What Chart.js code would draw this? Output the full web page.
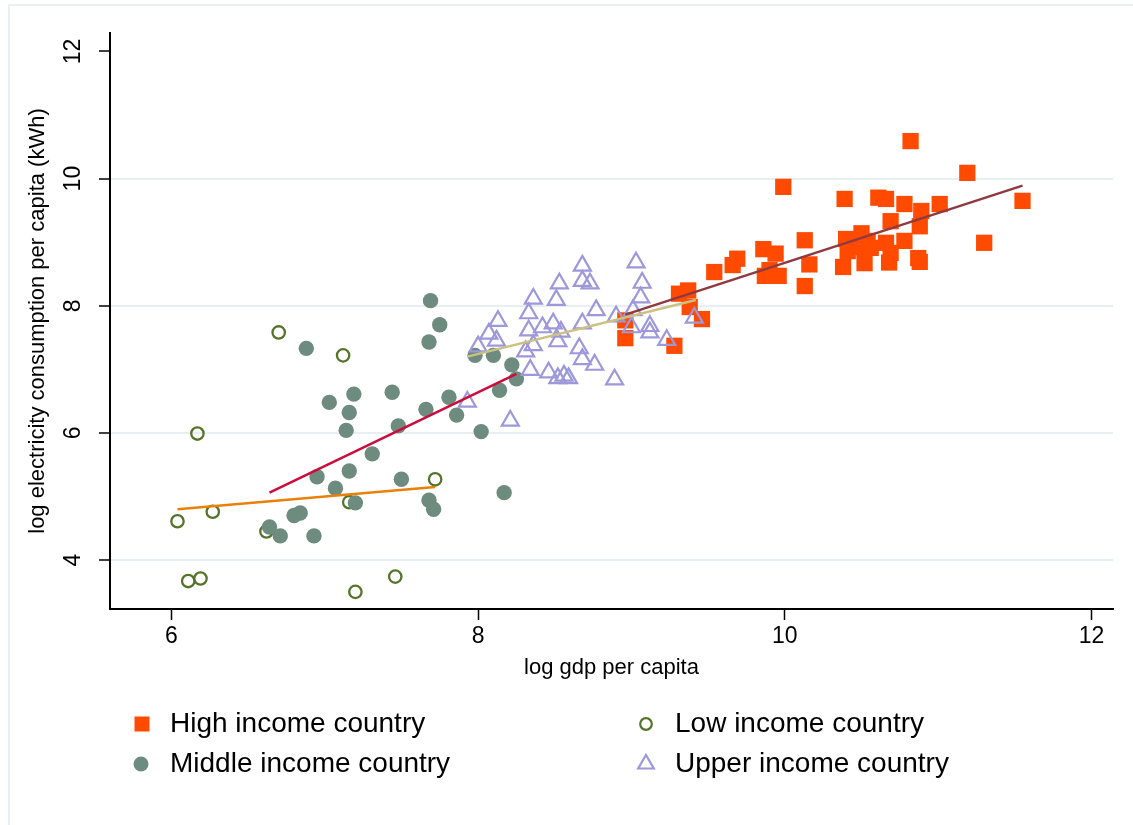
<!DOCTYPE html>
<html>
<head>
<meta charset="utf-8">
<title>Electricity consumption and GDP per capita</title>
<script src="https://cdn.jsdelivr.net/npm/chart.js@4.4.1/dist/chart.umd.min.js"></script>
<style>
  html, body { margin: 0; padding: 0; background: #ffffff; }
  #wrap { position: relative; width: 1133px; height: 825px; }
  canvas { display: block; }
</style>
</head>
<body>
<div id="wrap"><canvas id="chart" width="1133" height="825"></canvas></div>
<script>
// ---- data: log gdp per capita (x) and log electricity consumption per capita (y) ----
const highGdp  = [8.96, 8.96, 9.28, 9.46, 9.54, 9.66, 9.69, 9.31, 9.37, 9.38, 9.86, 9.94, 9.87, 9.96, 9.90,
                  9.99, 10.13, 10.16, 10.13, 10.39, 10.61, 10.66, 10.78, 10.89, 11.01, 10.69, 10.88, 10.40, 10.50, 10.54,
                  10.41, 10.50, 10.56, 10.66, 10.78, 10.69, 10.38, 10.52, 10.68, 10.87, 10.88, 10.82, 11.19, 11.55, 11.30];
const highElec = [7.77, 7.49, 7.37, 7.79, 8.53, 8.64, 8.74, 8.19, 8.24, 7.98, 8.89, 8.82, 8.47, 8.47, 8.56,
                  9.87, 9.03, 8.65, 8.31, 9.68, 9.70, 9.68, 9.60, 9.49, 9.60, 9.33, 9.25, 9.05, 9.14, 9.02,
                  8.86, 8.92, 8.91, 8.99, 9.02, 8.83, 8.61, 8.67, 8.68, 8.75, 8.69, 10.59, 10.09, 9.65, 8.99];

const midGdp  = [7.69, 7.75, 6.88, 7.68, 7.98, 8.10, 8.22, 8.25, 8.14, 7.03, 7.19, 7.16, 7.14, 7.44, 7.66,
                 7.81, 7.86, 7.48, 8.02, 7.31, 6.95, 7.16, 7.50, 7.07, 7.68, 7.71, 7.20, 6.84, 6.80, 6.64,
                 6.71, 6.93, 8.17];
const midElec = [8.08, 7.70, 7.33, 7.43, 7.22, 7.22, 7.07, 6.85, 6.67, 6.48, 6.61, 6.32, 6.04, 6.64, 6.37,
                 6.56, 6.28, 6.11, 6.02, 5.67, 5.31, 5.40, 5.27, 5.13, 4.94, 4.80, 4.90, 4.74, 4.70, 4.52,
                 4.38, 4.38, 5.06];

const lowGdp  = [6.70, 7.12, 6.17, 7.72, 6.27, 6.04, 6.62, 7.16, 6.11, 6.19, 7.46, 7.20];
const lowElec = [7.58, 7.22, 5.99, 5.27, 4.76, 4.61, 4.45, 4.91, 3.67, 3.71, 3.74, 3.50];

const upGdp  = [8.68, 9.03, 8.53, 8.68, 8.73, 9.07, 8.36, 8.51, 9.06, 8.33, 8.13, 8.77, 9.01, 8.90, 8.49,
                8.68, 8.42, 8.07, 8.33, 8.54, 9.12, 9.00, 9.12, 8.12, 8.00, 8.36, 8.52, 9.23, 9.41, 8.66,
                8.31, 8.68, 8.76, 8.34, 8.46, 8.52, 8.56, 8.59, 8.89, 7.93, 8.21];
const upElec = [8.63, 8.68, 8.35, 8.39, 8.35, 8.36, 8.11, 8.09, 8.13, 7.88, 7.76, 7.93, 7.93, 7.83, 7.72,
                7.72, 7.66, 7.56, 7.61, 7.59, 7.68, 7.66, 7.58, 7.45, 7.36, 7.38, 7.44, 7.46, 7.81, 7.33,
                7.28, 7.16, 7.07, 6.99, 6.95, 6.86, 6.90, 6.86, 6.84, 6.49, 6.19];

// linear fit lines per group (endpoints)
const highFitGdp = [8.96, 11.55], highFitElec = [7.86, 9.89];
const lowFitGdp  = [6.04, 7.72],  lowFitElec  = [4.80, 5.15];
const midFitGdp  = [6.64, 8.25],  midFitElec  = [5.06, 6.93];
const upFitGdp   = [7.93, 9.42],  upFitElec   = [7.20, 8.09];

const groupLabels = ['High income country', 'Low income country', 'Middle income country', 'Upper income country'];
const xTicks = [6, 8, 10, 12];
const yTicks = [4, 6, 8, 10, 12];
const xTitle = 'log gdp per capita';
const yTitle = 'log electricity consumption per capita (kWh)';

// ---- styling ----
const FONT = '"Liberation Sans", Arial, Helvetica, sans-serif';
const C_HIGH = '#ff4a00', C_MID = '#6e8b7f', C_LOW = '#55742a', C_UP = '#9c98da';
const C_HIGH_FIT = '#8e3a40', C_LOW_FIT = '#e8800a', C_MID_FIT = '#cc0c3c', C_UP_FIT = '#cbc183';

const zip = (xs, ys) => xs.map((x, i) => ({ x: x, y: ys[i] }));

function fitLine(xs, ys, color) {
  return { data: zip(xs, ys), showLine: true, borderColor: color, borderWidth: 2.5,
           pointRadius: 0, fill: false };
}

// first dataset is drawn on top
const datasets = [
  fitLine(upFitGdp, upFitElec, C_UP_FIT),
  fitLine(midFitGdp, midFitElec, C_MID_FIT),
  fitLine(lowFitGdp, lowFitElec, C_LOW_FIT),
  fitLine(highFitGdp, highFitElec, C_HIGH_FIT),
  { label: groupLabels[3], data: zip(upGdp, upElec), pointStyle: 'triangle', pointRadius: 9.8,
    pointBorderWidth: 2.2, pointBorderColor: C_UP, pointBackgroundColor: 'rgba(0,0,0,0)' },
  { label: groupLabels[2], data: zip(midGdp, midElec), pointStyle: 'circle', pointRadius: 7.7,
    pointBorderWidth: 0, pointBackgroundColor: C_MID, pointBorderColor: C_MID },
  { label: groupLabels[1], data: zip(lowGdp, lowElec), pointStyle: 'circle', pointRadius: 6.2,
    pointBorderWidth: 2.3, pointBorderColor: C_LOW, pointBackgroundColor: 'rgba(0,0,0,0)' },
  { label: groupLabels[0], data: zip(highGdp, highElec), pointStyle: 'rect', pointRadius: 11.5,
    pointBorderWidth: 0, pointBackgroundColor: C_HIGH, pointBorderColor: C_HIGH }
];

// background, faint outer frame and the two-column key
const framePlugin = {
  id: 'frame',
  beforeDraw(chart) {
    const ctx = chart.ctx;
    ctx.save();
    ctx.fillStyle = '#ffffff';
    ctx.fillRect(0, 0, chart.width, chart.height);
    ctx.strokeStyle = '#e9eff2';
    ctx.lineWidth = 2;
    ctx.beginPath();
    ctx.moveTo(9, chart.height);
    ctx.lineTo(9, 5);
    ctx.lineTo(chart.width, 5);
    ctx.stroke();
    ctx.restore();
  },
  afterDraw(chart) {
    const ctx = chart.ctx;
    const items = [
      { text: groupLabels[0], mx: 142, tx: 170, y: 724, kind: 'square' },
      { text: groupLabels[1], mx: 646, tx: 675, y: 724, kind: 'ring' },
      { text: groupLabels[2], mx: 141, tx: 170, y: 764, kind: 'dot' },
      { text: groupLabels[3], mx: 646, tx: 675, y: 764, kind: 'tri' }
    ];
    ctx.save();
    items.forEach(it => {
      ctx.beginPath();
      if (it.kind === 'square') {
        ctx.fillStyle = C_HIGH;
        ctx.fillRect(it.mx - 7.5, it.y - 7.5, 15, 15);
      } else if (it.kind === 'dot') {
        ctx.fillStyle = C_MID;
        ctx.arc(it.mx, it.y, 7.5, 0, Math.PI * 2);
        ctx.fill();
      } else if (it.kind === 'ring') {
        ctx.strokeStyle = C_LOW;
        ctx.lineWidth = 2.2;
        ctx.arc(it.mx, it.y, 5.8, 0, Math.PI * 2);
        ctx.stroke();
      } else {
        ctx.strokeStyle = C_UP;
        ctx.lineWidth = 2.2;
        const r = 9;
        ctx.moveTo(it.mx, it.y - r);
        ctx.lineTo(it.mx + r * 0.866, it.y + r / 2);
        ctx.lineTo(it.mx - r * 0.866, it.y + r / 2);
        ctx.closePath();
        ctx.stroke();
      }
      ctx.fillStyle = '#000000';
      ctx.font = '28px ' + FONT;
      ctx.textAlign = 'left';
      ctx.textBaseline = 'middle';
      ctx.fillText(it.text, it.tx, it.y);
    });
    ctx.restore();
  }
};

Chart.defaults.font.family = FONT;
Chart.defaults.color = '#000000';

new Chart(document.getElementById('chart'), {
  type: 'scatter',
  data: { datasets: datasets },
  options: {
    responsive: false,
    animation: false,
    events: [],
    layout: { padding: { left: 0, top: 33, right: 20, bottom: 144 } },
    plugins: { legend: { display: false }, tooltip: { enabled: false } },
    scales: {
      x: {
        type: 'linear',
        min: 5.6,
        max: 12.14,
        afterBuildTicks(scale) { scale.ticks = xTicks.map(v => ({ value: v })); },
        afterFit(scale) { scale.height = 72; },
        ticks: { includeBounds: false, stepSize: 2, padding: 3, font: { size: 23 }, color: '#000',
                 maxRotation: 0, minRotation: 0, autoSkip: false },
        grid: { drawOnChartArea: false, drawTicks: true, tickLength: 11, tickWidth: 1.5,
                tickColor: '#000', color: 'rgba(0,0,0,0)' },
        border: { display: true, color: '#000', width: 2 },
        title: { display: true, text: xTitle, font: { size: 22 }, color: '#000', padding: { top: 0, bottom: 0 } }
      },
      y: {
        type: 'linear',
        min: 3.23,
        max: 12.29,
        afterBuildTicks(scale) { scale.ticks = yTicks.map(v => ({ value: v })); },
        afterFit(scale) { scale.width = 110; },
        ticks: { includeBounds: false, stepSize: 2, padding: 13, font: { size: 23 }, color: '#000',
                 minRotation: 90, maxRotation: 90, crossAlign: 'center', autoSkip: false },
        grid: {
          drawOnChartArea: true, drawTicks: true, tickLength: 11, tickWidth: 1.5, tickColor: '#000',
          lineWidth: 2,
          color: (c) => (c.tick && c.tick.value === 12 ? 'rgba(0,0,0,0)' : '#e8eff2')
        },
        border: { display: true, color: '#000', width: 2 },
        title: { display: true, text: yTitle, font: { size: 22 }, color: '#000', padding: { top: 25, bottom: 0 } }
      }
    }
  },
  plugins: [framePlugin]
});
</script>
</body>
</html>
